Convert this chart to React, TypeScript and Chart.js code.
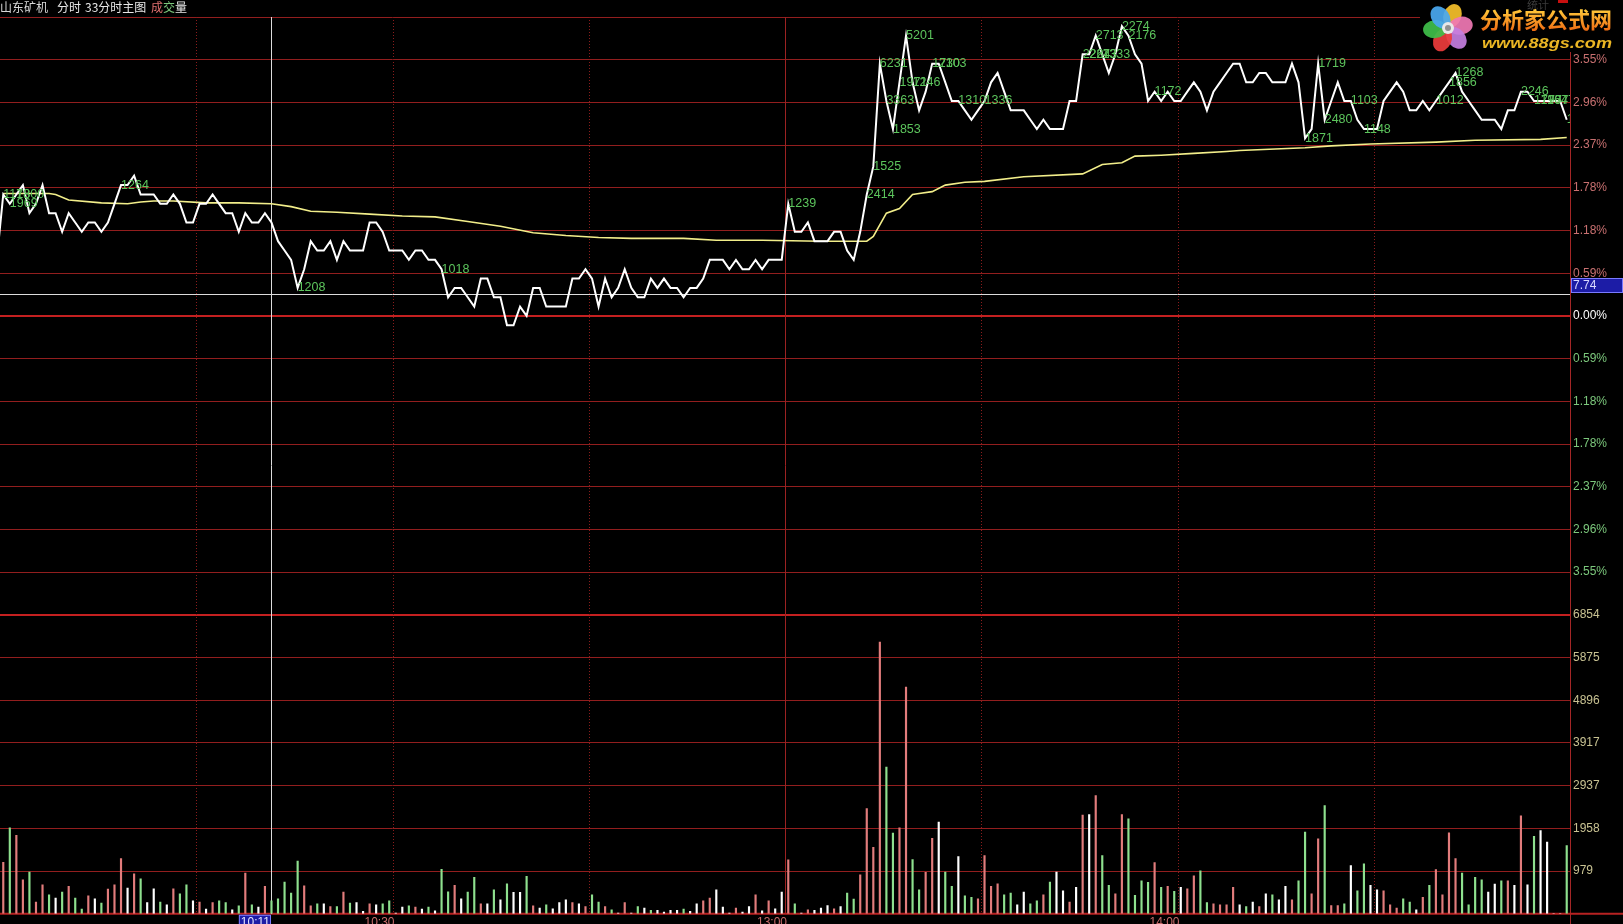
import React, { useEffect, useRef } from 'react';
import { Chart, registerables } from 'chart.js';

Chart.register(...registerables);

const W = 1623;
const H = 924;

const STOCK_NAME = '山东矿机';
const PREV_CLOSE = 7.72;
const PCT_STEP = 0.592;
const PCT_STEPS = 7;
const VOL_STEP = 979.14;
const VOL_STEPS = 7;
const VOL_LABEL_MIN = 1000;

const gridSlots = [30, 60, 90, 120, 150, 180, 210];
const solidGridSlot = 120;
const timeLabelText = ['10:30', '13:00', '14:00'];
const timeLabelSlots = [60, 120, 180];
const crossSlot = 42;
const crossTime = '10:11';
const crossPrice = 7.744;

// minute prices; first value is the opening print before the first minute bar
const prices = [
  7.78,
  7.85, 7.84, 7.85, 7.86, 7.83, 7.84, 7.86, 7.83, 7.83, 7.81,
  7.83, 7.82, 7.81, 7.82, 7.82, 7.81, 7.82, 7.84, 7.86, 7.86,
  7.87, 7.85, 7.85, 7.85, 7.84, 7.84, 7.85, 7.84, 7.82, 7.82,
  7.84, 7.84, 7.85, 7.84, 7.83, 7.83, 7.81, 7.83, 7.82, 7.82,
  7.83, 7.82, 7.80, 7.79, 7.78, 7.75, 7.77, 7.80, 7.79, 7.79,
  7.80, 7.78, 7.80, 7.79, 7.79, 7.79, 7.82, 7.82, 7.81, 7.79,
  7.79, 7.79, 7.78, 7.79, 7.79, 7.78, 7.78, 7.77, 7.74, 7.75,
  7.75, 7.74, 7.73, 7.76, 7.76, 7.74, 7.74, 7.71, 7.71, 7.73,
  7.72, 7.75, 7.75, 7.73, 7.73, 7.73, 7.73, 7.76, 7.76, 7.77,
  7.76, 7.73, 7.76, 7.74, 7.75, 7.77, 7.75, 7.74, 7.74, 7.76,
  7.75, 7.76, 7.75, 7.75, 7.74, 7.75, 7.75, 7.76, 7.78, 7.78,
  7.78, 7.77, 7.78, 7.77, 7.77, 7.78, 7.77, 7.78, 7.78, 7.78,
  7.84, 7.81, 7.81, 7.82, 7.80, 7.80, 7.80, 7.81, 7.81, 7.79,
  7.78, 7.81, 7.85, 7.88, 7.99, 7.95, 7.92, 7.97, 8.02, 7.97,
  7.94, 7.96, 7.99, 7.99, 7.97, 7.95, 7.95, 7.94, 7.93, 7.94,
  7.95, 7.97, 7.98, 7.96, 7.94, 7.94, 7.94, 7.93, 7.92, 7.93,
  7.92, 7.92, 7.92, 7.95, 7.95, 8.00, 8.00, 8.02, 8.00, 7.98,
  8.00, 8.03, 8.02, 8.00, 7.99, 7.95, 7.96, 7.95, 7.96, 7.95,
  7.95, 7.96, 7.97, 7.96, 7.94, 7.96, 7.97, 7.98, 7.99, 7.99,
  7.97, 7.97, 7.98, 7.98, 7.97, 7.97, 7.97, 7.99, 7.97, 7.91,
  7.92, 7.99, 7.93, 7.95, 7.97, 7.95, 7.95, 7.93, 7.92, 7.92,
  7.92, 7.95, 7.96, 7.97, 7.96, 7.94, 7.94, 7.95, 7.94, 7.95,
  7.96, 7.97, 7.98, 7.96, 7.95, 7.94, 7.93, 7.93, 7.93, 7.92,
  7.94, 7.94, 7.96, 7.96, 7.95, 7.95, 7.95, 7.95, 7.95, 7.93,
];

// average price line, read at these minute slots
const avgSlots = [1, 8, 9, 11, 16, 20, 22, 24, 27, 32, 37, 42, 45, 48, 52, 57, 62, 67, 72, 77, 82, 87, 92, 97, 105, 110, 117, 126, 133, 134, 136, 138, 140, 141, 143, 145, 148, 151, 157, 166, 169, 172, 174, 178, 183, 188, 190, 200, 204, 210, 220, 226, 236, 240];
const avgPrices = [7.851, 7.851, 7.85, 7.844, 7.841, 7.84, 7.842, 7.843, 7.843, 7.841, 7.841, 7.84, 7.837, 7.832, 7.831, 7.829, 7.827, 7.826, 7.821, 7.816, 7.809, 7.806, 7.804, 7.803, 7.803, 7.801, 7.801, 7.8, 7.8, 7.805, 7.83, 7.835, 7.85, 7.851, 7.853, 7.86, 7.863, 7.864, 7.869, 7.872, 7.882, 7.884, 7.891, 7.892, 7.894, 7.896, 7.897, 7.9, 7.902, 7.904, 7.906, 7.908, 7.909, 7.911];

// per-minute volume, minute slots 1..240
const volumes = [
  1178, 1969, 1800, 781, 957, 268, 666, 437, 360, 498,
  628, 360, 107, 414, 345, 245, 567, 666, 1264, 590,
  919, 804, 260, 575, 268, 207, 575, 460, 666, 299,
  268, 107, 260, 299, 260, 92, 184, 935, 207, 153,
  628, 299, 345, 728, 475, 1208, 643, 184, 230, 230,
  168, 168, 498, 245, 260, 54, 230, 207, 230, 299,
  15, 153, 184, 153, 107, 153, 69, 1018, 505, 651,
  345, 498, 835, 230, 230, 552, 322, 689, 490, 490,
  858, 184, 130, 207, 115, 260, 322, 260, 230, 168,
  437, 268, 168, 92, 15, 260, 15, 168, 130, 77,
  77, 38, 77, 77, 107, 54, 230, 299, 360, 552,
  153, 15, 130, 38, 168, 437, 69, 299, 115, 498,
  1239, 230, 15, 92, 77, 130, 191, 115, 168, 475,
  337, 896, 2414, 1525, 6231, 3363, 1853, 1971, 5201, 1246,
  552, 950, 1730, 2103, 957, 628, 1310, 414, 375, 345,
  1336, 628, 689, 437, 475, 207, 498, 230, 299, 437,
  728, 957, 528, 268, 605, 2264, 2273, 2713, 1333, 651,
  460, 2274, 2176, 421, 758, 720, 1172, 605, 628, 513,
  605, 575, 873, 988, 260, 230, 207, 207, 605, 207,
  168, 268, 168, 460, 437, 322, 628, 322, 758, 1871,
  460, 1719, 2480, 191, 191, 230, 1103, 528, 1148, 651,
  552, 528, 207, 130, 345, 268, 92, 375, 651, 1012,
  437, 1856, 1268, 935, 207, 835, 781, 498, 682, 758,
  758, 651, 2246, 666, 1777, 1907, 1647, 0, 0, 1563,
];

// bar colour per minute: R = up, G = down, W = unchanged
const volDirs =
  'RGRRGRRGWG' + 'RGGRWGRRRW' + 'RGWWGWRGGW' + 'RWRGGWGRGW' +
  'RGGGGGRRGW' + 'RGRGWWRWGG' + 'WWGRWGWGGR' + 'WGGRWGWGWW' +
  'GRWGWWWRWR' + 'GGRGWRWGWG' + 'WWWWGWWRRW' + 'WWRWWRWRWW' +
  'RGWRWWWRWG' + 'GRRRRGGRRG' + 'GRRWGGWGGR' + 'RRRGGWWGGR' +
  'GWWRWRWRGG' + 'RRGGGGRGRG' + 'WRRGGRRRRW' + 'GWRWGWWRGG' +
  'RRGRRGWGGW' + 'WRRRGGWRGR' + 'RRRGGGGWWG' + 'RWRWGWWWWG';

const FONT = '"Liberation Sans", Arial, sans-serif';
const CJK = '"Noto Sans CJK SC", sans-serif';

const pct = (p: number) => (p / PREV_CLOSE - 1) * 100;

export default function App() {
  const ref = useRef<HTMLCanvasElement | null>(null);

  useEffect(() => {
    document.body.style.margin = '0';
    document.body.style.background = '#000';
    document.body.style.overflow = 'hidden';
    const canvas = ref.current;
    if (!canvas) return;

    const priceData = prices.map((p, k) => ({ x: k, y: pct(p) }));
    const avgData = avgSlots.map((s, j) => ({ x: s, y: pct(avgPrices[j]) }));
    const volData = volumes.map((v, i) => ({ x: i + 1, y: v }));
    const dirColor: Record<string, string> = { R: '#e27c7c', G: '#8ee08e', W: '#ffffff' };
    const volColors = volumes.map((_, i) => dirColor[volDirs[i]] || '#ffffff');

    const kOf = (v: number) => Math.round(v / PCT_STEP);
    const jOf = (v: number) => Math.round(v / VOL_STEP);

    const overlay = {
      id: 'overlay',
      beforeDraw(chart: any) {
        const ctx = chart.ctx;
        ctx.save();
        ctx.fillStyle = '#000';
        ctx.fillRect(0, 0, W, H);
        ctx.restore();
      },
      beforeDatasetsDraw(chart: any) {
        const ctx = chart.ctx;
        const { top, bottom, right } = chart.chartArea;
        const xs = chart.scales.x;
        const ys = chart.scales.y;
        ctx.save();
        gridSlots.forEach((s) => {
          const px = Math.round(xs.getPixelForValue(s + 0.5)) + 0.5;
          ctx.beginPath();
          if (s === solidGridSlot) {
            ctx.setLineDash([]);
            ctx.strokeStyle = '#9c2222';
          } else {
            ctx.setLineDash([1, 2]);
            ctx.strokeStyle = '#8a1c1c';
          }
          ctx.lineWidth = 1;
          ctx.moveTo(px, top);
          ctx.lineTo(px, bottom);
          ctx.stroke();
        });
        ctx.setLineDash([]);
        ctx.strokeStyle = '#a42626';
        ctx.lineWidth = 1;
        ctx.beginPath();
        ctx.moveTo(Math.round(right) + 0.5, 0);
        ctx.lineTo(Math.round(right) + 0.5, H);
        ctx.stroke();
        ctx.strokeStyle = '#b82222';
        ctx.lineWidth = 2;
        ctx.beginPath();
        ctx.moveTo(0, bottom);
        ctx.lineTo(W, bottom);
        ctx.stroke();
        const cy = Math.round(ys.getPixelForValue(pct(crossPrice))) + 0.5;
        const cx = Math.round(xs.getPixelForValue(crossSlot)) + 0.5;
        ctx.strokeStyle = '#dcdcdc';
        ctx.lineWidth = 1;
        ctx.beginPath();
        ctx.moveTo(0, cy);
        ctx.lineTo(right, cy);
        ctx.moveTo(cx, top);
        ctx.lineTo(cx, bottom);
        ctx.stroke();
        ctx.restore();
      },
      afterDatasetsDraw(chart: any) {
        const ctx = chart.ctx;
        const { left, top, bottom, right } = chart.chartArea;
        const xs = chart.scales.x;
        const ys = chart.scales.y;
        const meta = chart.getDatasetMeta(0);
        // volume labels on the price line, clipped to the plot
        ctx.save();
        ctx.beginPath();
        ctx.rect(left, top, right - left, bottom - top);
        ctx.clip();
        ctx.font = `12.5px ${FONT}`;
        ctx.textAlign = 'left';
        ctx.textBaseline = 'middle';
        ctx.fillStyle = '#5cc45c';
        volumes.forEach((v, i) => {
          if (v >= VOL_LABEL_MIN) {
            const pt = meta.data[i + 1];
            if (pt) ctx.fillText(String(v), pt.x, pt.y);
          }
        });
        ctx.restore();

        ctx.save();
        ctx.font = `12px ${FONT}`;
        ctx.textBaseline = 'top';
        ctx.textAlign = 'right';
        ctx.fillStyle = '#c86a6a';
        timeLabelText.forEach((t, j) => {
          const px = xs.getPixelForValue(timeLabelSlots[j] + 0.5);
          ctx.fillText(t, px + 2, bottom + 3);
        });
        const cx = Math.round(xs.getPixelForValue(crossSlot));
        const tw = ctx.measureText(crossTime).width;
        ctx.fillStyle = '#1c1ca6';
        ctx.fillRect(cx - tw - 3, bottom + 1, tw + 3, H - bottom - 1);
        ctx.strokeStyle = '#7a7aff';
        ctx.lineWidth = 1;
        ctx.strokeRect(cx - tw - 2.5, bottom + 1.5, tw + 2, H - bottom);
        ctx.fillStyle = '#e4e4ff';
        ctx.fillText(crossTime, cx - 1, bottom + 3);
        const cy = Math.round(ys.getPixelForValue(pct(crossPrice)));
        ctx.fillStyle = '#1c1ca6';
        ctx.fillRect(right + 1, cy - 16, W - right - 1, 15);
        ctx.strokeStyle = '#7a7aff';
        ctx.strokeRect(right + 1.5, cy - 15.5, W - right - 2, 14);
        ctx.fillStyle = '#d8d8ff';
        ctx.textAlign = 'left';
        ctx.textBaseline = 'middle';
        ctx.fillText(crossPrice.toFixed(2), right + 3, cy - 8);
        ctx.font = `12px ${CJK}`;
        ctx.textBaseline = 'middle';
        const header: [string, string, number][] = [
          [STOCK_NAME, '#d8d8d8', 0],
          ['分时', '#e8e8e8', 57],
          ['33分时主图', '#e8e8e8', 85],
          ['成', '#e07070', 151],
          ['交', '#7cc87c', 163],
          ['量', '#e8e8e8', 175],
        ];
        header.forEach(([t, c, x]) => {
          ctx.fillStyle = c;
          ctx.fillText(t, x, 7);
        });
        ctx.fillStyle = '#000';
        ctx.fillRect(1420, 0, W - 1420, 52);
        ctx.fillStyle = '#3a3a3a';
        ctx.font = `11px ${CJK}`;
        ctx.fillText('统计', 1527, 5);
        ctx.fillStyle = '#c81010';
        ctx.fillRect(1558, 0, 10, 3);
        const fx = 1448;
        const fy = 28;
        const petals: [string, number][] = [
          ['#f6c02a', -70],
          ['#f078b4', -10],
          ['#c47ee0', 50],
          ['#ee3c3c', 115],
          ['#3fbf4a', 175],
          ['#4aa8f0', 235],
        ];
        petals.forEach(([c, a]) => {
          ctx.save();
          ctx.translate(fx, fy);
          ctx.rotate((a * Math.PI) / 180);
          ctx.beginPath();
          ctx.ellipse(13, 0, 12, 9, 0, 0, Math.PI * 2);
          ctx.fillStyle = c;
          ctx.globalAlpha = 0.92;
          ctx.fill();
          ctx.restore();
        });
        ctx.beginPath();
        ctx.arc(fx, fy, 6, 0, Math.PI * 2);
        ctx.fillStyle = '#e8e8e8';
        ctx.fill();
        ctx.beginPath();
        ctx.arc(fx, fy, 3, 0, Math.PI * 2);
        ctx.fillStyle = '#909090';
        ctx.fill();
        const g = ctx.createLinearGradient(0, 10, 0, 31);
        g.addColorStop(0, '#ffc83a');
        g.addColorStop(1, '#ee6a12');
        ctx.fillStyle = g;
        ctx.font = `bold 22px ${CJK}`;
        ctx.textAlign = 'left';
        ctx.fillText('分析家公式网', 1480, 20);
        ctx.font = `italic bold 15px ${FONT}`;
        const url = 'www.88gs.com';
        const uw = ctx.measureText(url).width;
        ctx.save();
        ctx.translate(1482, 44);
        ctx.scale(130 / uw, 1);
        ctx.fillStyle = '#ebb624';
        ctx.fillText(url, 0, 0);
        ctx.restore();
        ctx.restore();
      },
    };

    const chart = new Chart(canvas, {
      type: 'line',
      data: {
        datasets: [
          {
            type: 'line',
            label: 'price',
            data: priceData,
            xAxisID: 'x',
            yAxisID: 'y',
            borderColor: '#ffffff',
            borderWidth: 2,
            pointRadius: 0,
            tension: 0,
            order: 1,
          },
          {
            type: 'line',
            label: 'avg',
            data: avgData,
            xAxisID: 'x',
            yAxisID: 'y',
            borderColor: '#f2ee8a',
            borderWidth: 1.6,
            pointRadius: 0,
            tension: 0,
            order: 2,
          },
          {
            type: 'bar',
            label: 'volume',
            data: volData,
            xAxisID: 'x',
            yAxisID: 'yv',
            backgroundColor: volColors,
            barThickness: 1.5,
            order: 3,
          },
        ] as any,
      },
      options: {
        responsive: false,
        animation: false,
        devicePixelRatio: 1,
        events: [],
        layout: { padding: { top: 17, bottom: 10, left: 0, right: 0 } },
        plugins: { legend: { display: false }, tooltip: { enabled: false } },
        scales: {
          x: { type: 'linear', min: 0.5, max: 240.5, offset: false, display: false, grid: { offset: false } },
          y: {
            type: 'linear',
            position: 'right',
            stack: 'main',
            stackWeight: 2 * PCT_STEPS,
            min: -PCT_STEPS * PCT_STEP,
            max: PCT_STEPS * PCT_STEP,
            afterBuildTicks: (s: any) => {
              const t = [];
              for (let k = -PCT_STEPS; k <= PCT_STEPS; k++) t.push({ value: k * PCT_STEP });
              s.ticks = t;
            },
            afterFit: (s: any) => {
              s.width = W - 1570;
            },
            border: { display: false },
            grid: {
              drawTicks: false,
              color: (c: any) => {
                const k = kOf(c.tick.value);
                return k === 0 || k === -PCT_STEPS ? '#c42020' : '#921e1e';
              },
              lineWidth: (c: any) => {
                const k = kOf(c.tick.value);
                return k === 0 || k === -PCT_STEPS ? 2 : 1;
              },
            },
            ticks: {
              autoSkip: false,
              padding: 3,
              font: { family: FONT, size: 12 },
              color: (c: any) => {
                const k = kOf(c.tick.value);
                return k > 0 ? '#c87070' : k === 0 ? '#ffffff' : '#7cc87c';
              },
              callback: (v: any) => {
                const k = kOf(Number(v));
                if (Math.abs(k) >= PCT_STEPS) return '';
                return Math.abs(k * PCT_STEP).toFixed(2) + '%';
              },
            },
          },
          yv: {
            type: 'linear',
            position: 'right',
            stack: 'main',
            stackWeight: VOL_STEPS,
            min: 0,
            max: VOL_STEPS * VOL_STEP,
            afterBuildTicks: (s: any) => {
              const t = [];
              for (let j = 0; j <= VOL_STEPS; j++) t.push({ value: j * VOL_STEP });
              s.ticks = t;
            },
            afterFit: (s: any) => {
              s.width = W - 1570;
            },
            border: { display: false },
            grid: {
              drawTicks: false,
              color: (c: any) => {
                const j = jOf(c.tick.value);
                return j === 0 || j === VOL_STEPS ? 'rgba(0,0,0,0)' : '#921e1e';
              },
            },
            ticks: {
              autoSkip: false,
              padding: 3,
              font: { family: FONT, size: 12 },
              color: '#c8c292',
              callback: (v: any) => {
                const j = jOf(Number(v));
                if (j === 0) return '';
                return String(Math.round(Number(v)));
              },
            },
          },
        } as any,
      },
      plugins: [overlay],
    });

    return () => {
      chart.destroy();
    };
  }, []);

  return <canvas ref={ref} width={W} height={H} style={{ display: 'block', width: W, height: H }} />;
}
